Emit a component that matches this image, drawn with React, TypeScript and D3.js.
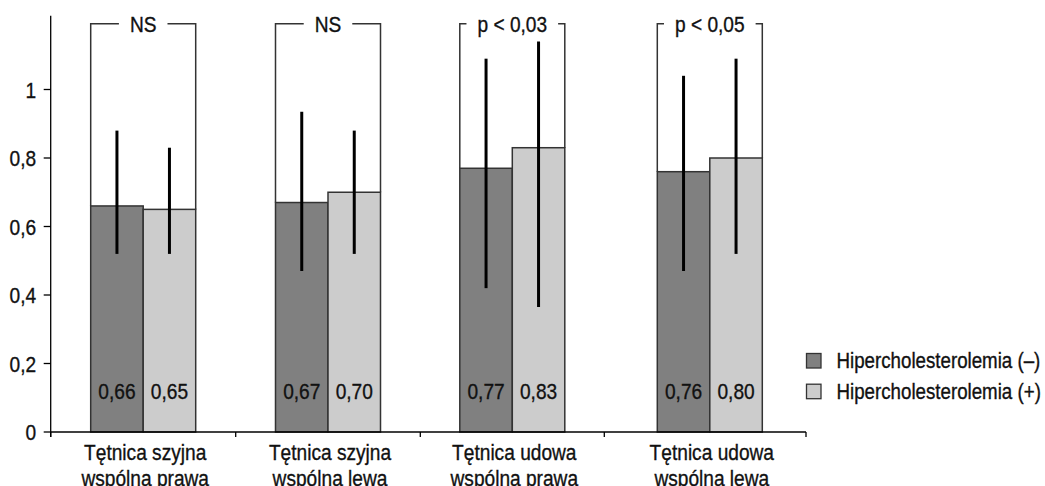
import React, { useEffect, useRef } from "react";
import * as d3 from "d3";

const categories: string[][] = [
  ["Tętnica szyjna", "wspólna prawa"],
  ["Tętnica szyjna", "wspólna lewa"],
  ["Tętnica udowa", "wspólna prawa"],
  ["Tętnica udowa", "wspólna lewa"],
];
const seriesNames = ["Hipercholesterolemia (–)", "Hipercholesterolemia (+)"];
const meansNeg = [0.66, 0.67, 0.77, 0.76];
const meansPos = [0.65, 0.7, 0.83, 0.8];
const lowNeg = [0.52, 0.47, 0.42, 0.47];
const highNeg = [0.88, 0.935, 1.09, 1.04];
const lowPos = [0.52, 0.52, 0.365, 0.52];
const highPos = [0.83, 0.88, 1.14, 1.09];
const pLabels = ["NS", "NS", "p < 0,03", "p < 0,05"];
const yTicks = [0, 0.2, 0.4, 0.6, 0.8, 1];

const W = 1045;
const H = 486;
const FONT = "'Liberation Sans', Arial, sans-serif";
const SX = 0.85;
const DARK = "#808080";
const LIGHT = "#cccccc";

export default function App() {
  const ref = useRef<SVGSVGElement | null>(null);

  useEffect(() => {
    const svg = d3.select(ref.current);
    svg.selectAll("*").remove();

    const y = d3.scaleLinear().domain([0, 1]).range([432, 89.5]);
    const x = d3
      .scaleLinear()
      .domain([0, 1, 2, 3, 3.5, 4])
      .range([50.7, 235.7, 420.3, 604.3, 709.8, 806]);
    const half = 52.5;
    const axisTop = 1.215;
    const bracketY = 23.7;
    const fmt = (v: number) => d3.format(".2f")(v).replace(".", ",");

    const g = svg.append("g");

    const label = (
      tx: number,
      ty: number,
      str: string,
      anchor: string = "middle",
      size: number = 22.5,
      sx: number = SX
    ) => {
      const gg = g.append("g").attr("transform", `translate(${tx},${ty}) scale(${sx},1)`);
      const t = gg
        .append("text")
        .attr("x", 0)
        .attr("y", 0)
        .attr("text-anchor", anchor)
        .attr("font-family", FONT)
        .attr("font-size", size)
        .attr("fill", "#111")
        .attr("stroke", "#111")
        .attr("stroke-width", 0.35)
        .text(str);
      return (t.node() as SVGTextElement).getComputedTextLength() * sx;
    };

    // bars
    categories.forEach((_, i) => {
      const c = x(i + 0.5);
      g.append("rect")
        .attr("x", c - half)
        .attr("y", y(meansNeg[i]))
        .attr("width", half)
        .attr("height", y(0) - y(meansNeg[i]))
        .attr("fill", DARK)
        .attr("stroke", "#333")
        .attr("stroke-width", 1.5);
      g.append("rect")
        .attr("x", c)
        .attr("y", y(meansPos[i]))
        .attr("width", half)
        .attr("height", y(0) - y(meansPos[i]))
        .attr("fill", LIGHT)
        .attr("stroke", "#333")
        .attr("stroke-width", 1.5);

      // error bars
      g.append("line")
        .attr("x1", c - half / 2)
        .attr("x2", c - half / 2)
        .attr("y1", y(lowNeg[i]))
        .attr("y2", y(highNeg[i]))
        .attr("stroke", "#000")
        .attr("stroke-width", 3);
      g.append("line")
        .attr("x1", c + half / 2)
        .attr("x2", c + half / 2)
        .attr("y1", y(lowPos[i]))
        .attr("y2", y(highPos[i]))
        .attr("stroke", "#000")
        .attr("stroke-width", 3);

      // value labels
      label(c - half / 2, 399, fmt(meansNeg[i]));
      label(c + half / 2, 399, fmt(meansPos[i]));

      // bracket
      const tw = label(c, 32.3, pLabels[i]);
      const gap = 11;
      const path = d3.path();
      path.moveTo(c - half, y(meansNeg[i]));
      path.lineTo(c - half, bracketY);
      path.lineTo(c - tw / 2 - gap, bracketY);
      path.moveTo(c + tw / 2 + gap, bracketY);
      path.lineTo(c + half, bracketY);
      path.lineTo(c + half, y(meansPos[i]));
      g.append("path")
        .attr("d", path.toString())
        .attr("fill", "none")
        .attr("stroke", "#333")
        .attr("stroke-width", 1.5);

      // category labels
      categories[i].forEach((line, li) => {
        label(c + 2, 459.5 + li * 26.5, line);
      });
    });

    // y axis
    g.append("line")
      .attr("x1", x(0))
      .attr("x2", x(0))
      .attr("y1", y(axisTop))
      .attr("y2", y(0) + 5)
      .attr("stroke", "#000")
      .attr("stroke-width", 1.3);
    yTicks.forEach((v) => {
      g.append("line")
        .attr("x1", x(0) - 7)
        .attr("x2", x(0))
        .attr("y1", y(v))
        .attr("y2", y(v))
        .attr("stroke", "#000")
        .attr("stroke-width", 1.3);
      label(
        x(0) - 14.5,
        y(v) + 8,
        v === 0 || v === 1 ? String(v) : d3.format(".1f")(v).replace(".", ","),
        "end"
      );
    });

    // x axis
    g.append("line")
      .attr("x1", x(0))
      .attr("x2", x(4))
      .attr("y1", y(0))
      .attr("y2", y(0))
      .attr("stroke", "#000")
      .attr("stroke-width", 1.3);
    [0, 1, 2, 3, 4].forEach((b) => {
      g.append("line")
        .attr("x1", x(b))
        .attr("x2", x(b))
        .attr("y1", y(0))
        .attr("y2", y(0) + 5)
        .attr("stroke", "#000")
        .attr("stroke-width", 1.3);
    });

    // legend
    const colors = [DARK, LIGHT];
    seriesNames.forEach((name, i) => {
      const ly = 353.5 + i * 30.7;
      g.append("rect")
        .attr("x", 806.5)
        .attr("y", ly)
        .attr("width", 14.5)
        .attr("height", 14.5)
        .attr("fill", colors[i])
        .attr("stroke", "#333")
        .attr("stroke-width", 1.3);
      label(836.5, ly + 14.3, name, "start", 21.4, 0.875);
    });
  }, []);

  return (
    <svg
      ref={ref}
      width={W}
      height={H}
      style={{ position: "absolute", left: 0, top: 0, background: "#fff" }}
    />
  );
}
